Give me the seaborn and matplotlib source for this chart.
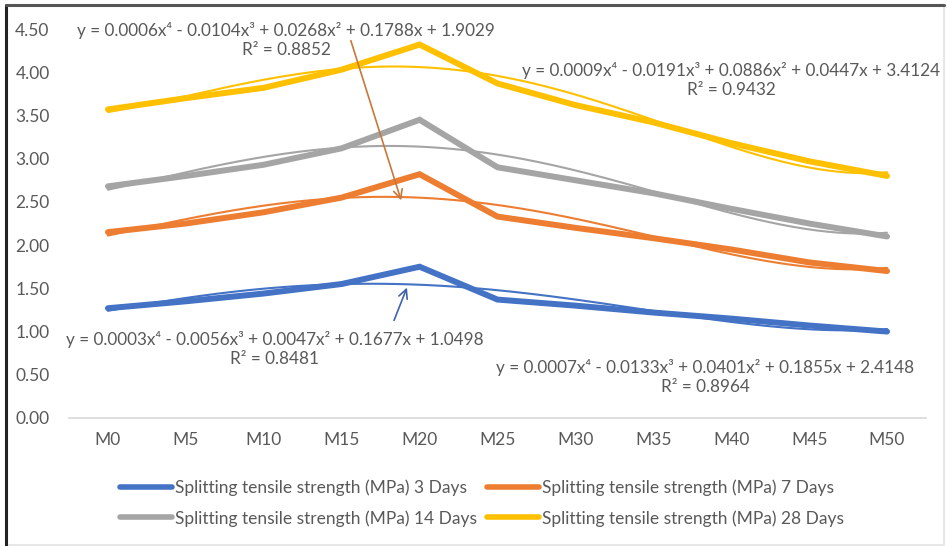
import numpy as np
import pandas as pd
import matplotlib
matplotlib.use("Agg")
import matplotlib.pyplot as plt
from matplotlib.lines import Line2D
from matplotlib.patches import Rectangle
import seaborn as sns

# Mix designations (replacement level, %)
mixes = ["M0", "M5", "M10", "M15", "M20", "M25", "M30", "M35", "M40", "M45", "M50"]

# Splitting tensile strength (MPa) at each curing age
days_3 = [1.27, 1.35, 1.44, 1.55, 1.75, 1.37, 1.30, 1.22, 1.15, 1.07, 1.00]
days_7 = [2.15, 2.25, 2.38, 2.55, 2.82, 2.33, 2.20, 2.08, 1.95, 1.80, 1.70]
days_14 = [2.68, 2.80, 2.93, 3.12, 3.45, 2.90, 2.75, 2.60, 2.42, 2.25, 2.10]
days_28 = [3.57, 3.70, 3.82, 4.03, 4.32, 3.87, 3.62, 3.42, 3.18, 2.97, 2.80]

series_names = [
    "Splitting tensile strength (MPa) 3 Days",
    "Splitting tensile strength (MPa) 7 Days",
    "Splitting tensile strength (MPa) 14 Days",
    "Splitting tensile strength (MPa) 28 Days",
]
series_values = [days_3, days_7, days_14, days_28]
colors = ["#4472C4", "#ED7D31", "#A5A5A5", "#FFC000"]
palette = dict(zip(series_names, colors))

# Trendline equations shown on the chart
eq_labels = [
    "y = 0.0003x\u2074 - 0.0056x\u00b3 + 0.0047x\u00b2 + 0.1677x + 1.0498\nR\u00b2 = 0.8481",
    "y = 0.0006x\u2074 - 0.0104x\u00b3 + 0.0268x\u00b2 + 0.1788x + 1.9029\nR\u00b2 = 0.8852",
    "y = 0.0007x\u2074 - 0.0133x\u00b3 + 0.0401x\u00b2 + 0.1855x + 2.4148\nR\u00b2 = 0.8964",
    "y = 0.0009x\u2074 - 0.0191x\u00b3 + 0.0886x\u00b2 + 0.0447x + 3.4124\nR\u00b2 = 0.9432",
]

sns.set_style("white")
plt.rcParams["font.family"] = ["Lato", "DejaVu Sans"]
text_color = "#595959"

# Long-form tables: measured points and 4th-order polynomial trendlines
idx = np.arange(len(mixes))
rows = []
trend_rows = []
xs = np.linspace(0, len(mixes) - 1, 200)
for name, vals in zip(series_names, series_values):
    for i, v in zip(idx, vals):
        rows.append({"pos": i, "series": name, "value": v})
    coef = np.polyfit(idx + 1, vals, 4)
    for x in xs:
        trend_rows.append({"pos": x, "series": name, "value": np.polyval(coef, x + 1)})
df = pd.DataFrame(rows)
trend = pd.DataFrame(trend_rows)

fig = plt.figure(figsize=(9.47, 5.46), dpi=100)
W, H = 947, 546
ax = fig.add_axes([69 / W, 1 - 418 / H, (926 - 69) / W, (418 - 29) / H])

sns.lineplot(data=trend, x="pos", y="value", hue="series", palette=palette,
             linewidth=1.5, legend=False, ax=ax, sort=True)
sns.lineplot(data=df, x="pos", y="value", hue="series", palette=palette,
             linewidth=4.3, legend=False, ax=ax, sort=False,
             solid_capstyle="round", solid_joinstyle="miter")

ax.set_xlim(-0.5, len(mixes) - 0.5)
ax.set_ylim(0, 4.5)
ax.set_xticks(idx)
ax.set_xticklabels(mixes)
ax.set_yticks(np.arange(0, 4.51, 0.5))
ax.set_yticklabels([f"{v:.2f}" for v in np.arange(0, 4.51, 0.5)])
ax.set_xlabel("")
ax.set_ylabel("")
ax.tick_params(axis="both", length=0, labelsize=12.5, colors=text_color, pad=10)
ax.tick_params(axis="y", pad=14)
for s in ["top", "right", "left"]:
    ax.spines[s].set_visible(False)
ax.spines["bottom"].set_color("#D9D9D9")
ax.spines["bottom"].set_linewidth(1.2)

# Trendline equation labels (pixel positions within the figure)
def fig_xy(px, py):
    return px / W, 1 - py / H

eq_pos = [(275, 349), (286, 40), (705, 377), (731, 80)]
for label, (px, py) in zip(eq_labels, eq_pos):
    fig.text(*fig_xy(px, py), label, ha="center", va="center", fontsize=12.3,
             color=text_color, linespacing=1.3)

# Arrows pointing from equations to their trendlines
ax.annotate("", xy=fig_xy(402, 203), xytext=fig_xy(350, 38),
            xycoords="figure fraction", textcoords="figure fraction",
            arrowprops=dict(arrowstyle="->", color="#C9773A", lw=1.2,
                            mutation_scale=16))
ax.annotate("", xy=fig_xy(408, 285), xytext=fig_xy(393, 323),
            xycoords="figure fraction", textcoords="figure fraction",
            arrowprops=dict(arrowstyle="->", color="#3F63A8", lw=1.2,
                            mutation_scale=16))

# Legend below the plot: row-major order (3, 7 / 14, 28 days)
order = [0, 2, 1, 3]
handles = [Line2D([0], [0], color=colors[i], lw=4, solid_capstyle="round") for i in order]
labels = [series_names[i] for i in order]
fig.legend(handles, labels, loc="center", bbox_to_anchor=(482 / W, 1 - 503 / H),
           ncol=2, frameon=False, fontsize=12.5, handlelength=3.0, handletextpad=0.15,
           columnspacing=0.6, labelspacing=0.8, labelcolor=text_color)

# Outer frame
fig.add_artist(Rectangle((6 / W, 1 - 545 / H), (944 - 6) / W, (545 - 5) / H,
                         transform=fig.transFigure, fill=False,
                         edgecolor="#E3E3E3", lw=1.2))
fig.add_artist(Line2D([6 / W, 6 / W], [1 - 545 / H, 1 - 5 / H],
                      transform=fig.transFigure, color="#222222", lw=2.2))
fig.add_artist(Line2D([6 / W, 944 / W], [1 - 5 / H, 1 - 5 / H],
                      transform=fig.transFigure, color="#555555", lw=2.2))

fig.savefig("out.png", dpi=100)
